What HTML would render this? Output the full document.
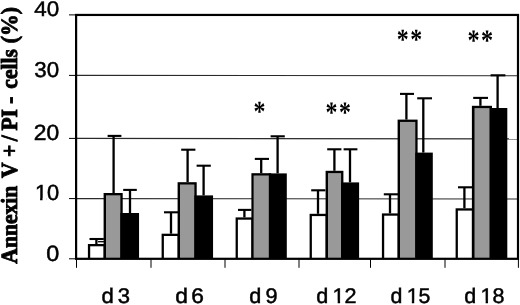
<!DOCTYPE html>
<html><head><meta charset="utf-8"><title>chart</title>
<style>html,body{margin:0;padding:0;background:#fff;overflow:hidden}svg{display:block}</style>
</head><body>
<svg width="520" height="305" viewBox="0 0 520 305" text-rendering="geometricPrecision">
<defs><filter id="soft" x="-5%" y="-5%" width="110%" height="110%"><feGaussianBlur stdDeviation="0.4"/></filter></defs>
<rect width="520" height="305" fill="#fff"/>
<g filter="url(#soft)">
<rect x="-20" y="-20" width="560" height="345" fill="#fff"/>
<line x1="76" x2="518" y1="75.4" y2="75.8" stroke="#2a2a2a" stroke-width="1.1"/>
<line x1="76" x2="518" y1="138.4" y2="138.9" stroke="#2a2a2a" stroke-width="1.1"/>
<line x1="76" x2="518" y1="198.6" y2="199.0" stroke="#2a2a2a" stroke-width="1.1"/>
<line x1="96.4" x2="96.4" y1="238.7" y2="244.0" stroke="#000" stroke-width="2.3"/>
<line x1="89.5" x2="103.80000000000001" y1="239.0" y2="239.0" stroke="#000" stroke-width="2.1"/>
<line x1="113.6" x2="113.6" y1="135.6" y2="193.0" stroke="#000" stroke-width="2.3"/>
<line x1="107.6" x2="121.4" y1="135.9" y2="135.9" stroke="#000" stroke-width="2.1"/>
<line x1="130" x2="130" y1="189.6" y2="213.0" stroke="#000" stroke-width="2.3"/>
<line x1="123.19999999999999" x2="136.8" y1="189.9" y2="189.9" stroke="#000" stroke-width="2.1"/>
<line x1="171" x2="171" y1="212" y2="233.7" stroke="#000" stroke-width="2.3"/>
<line x1="164.0" x2="178.4" y1="212.3" y2="212.3" stroke="#000" stroke-width="2.1"/>
<line x1="187.6" x2="187.6" y1="149.4" y2="182.2" stroke="#000" stroke-width="2.3"/>
<line x1="181.2" x2="195.4" y1="149.70000000000002" y2="149.70000000000002" stroke="#000" stroke-width="2.1"/>
<line x1="203.6" x2="203.6" y1="165.4" y2="195.4" stroke="#000" stroke-width="2.3"/>
<line x1="196.6" x2="210.8" y1="165.70000000000002" y2="165.70000000000002" stroke="#000" stroke-width="2.1"/>
<line x1="244.4" x2="244.4" y1="209.6" y2="217.4" stroke="#000" stroke-width="2.3"/>
<line x1="238.0" x2="251.4" y1="209.9" y2="209.9" stroke="#000" stroke-width="2.1"/>
<line x1="261.2" x2="261.2" y1="158.6" y2="173.2" stroke="#000" stroke-width="2.3"/>
<line x1="254.79999999999998" x2="269.0" y1="158.9" y2="158.9" stroke="#000" stroke-width="2.1"/>
<line x1="277.6" x2="277.6" y1="136" y2="173.4" stroke="#000" stroke-width="2.3"/>
<line x1="270.6" x2="284.79999999999995" y1="136.3" y2="136.3" stroke="#000" stroke-width="2.1"/>
<line x1="318" x2="318" y1="190" y2="213.8" stroke="#000" stroke-width="2.3"/>
<line x1="311.20000000000005" x2="325.4" y1="190.3" y2="190.3" stroke="#000" stroke-width="2.1"/>
<line x1="334.4" x2="334.4" y1="149" y2="170.8" stroke="#000" stroke-width="2.3"/>
<line x1="327.20000000000005" x2="341.4" y1="149.3" y2="149.3" stroke="#000" stroke-width="2.1"/>
<line x1="350" x2="350" y1="149" y2="182.4" stroke="#000" stroke-width="2.3"/>
<line x1="343.6" x2="357.4" y1="149.3" y2="149.3" stroke="#000" stroke-width="2.1"/>
<line x1="390" x2="390" y1="194" y2="213.4" stroke="#000" stroke-width="2.3"/>
<line x1="383.8" x2="398.0" y1="194.3" y2="194.3" stroke="#000" stroke-width="2.1"/>
<line x1="406.4" x2="406.4" y1="93.6" y2="119.6" stroke="#000" stroke-width="2.3"/>
<line x1="400.0" x2="414.0" y1="93.89999999999999" y2="93.89999999999999" stroke="#000" stroke-width="2.1"/>
<line x1="423.3" x2="423.3" y1="98" y2="152.6" stroke="#000" stroke-width="2.3"/>
<line x1="417.20000000000005" x2="432.0" y1="98.3" y2="98.3" stroke="#000" stroke-width="2.1"/>
<line x1="464.4" x2="464.4" y1="187.0" y2="208.3" stroke="#000" stroke-width="2.3"/>
<line x1="458.0" x2="472.4" y1="187.3" y2="187.3" stroke="#000" stroke-width="2.1"/>
<line x1="480.4" x2="480.4" y1="97.6" y2="105.8" stroke="#000" stroke-width="2.3"/>
<line x1="473.20000000000005" x2="488.0" y1="97.89999999999999" y2="97.89999999999999" stroke="#000" stroke-width="2.1"/>
<line x1="497.6" x2="497.6" y1="75" y2="108.0" stroke="#000" stroke-width="2.3"/>
<line x1="490.6" x2="505.4" y1="75.3" y2="75.3" stroke="#000" stroke-width="2.1"/>
<line x1="98" x2="104" y1="241.7" y2="241.7" stroke="#000" stroke-width="1.3"/>
<rect x="87.9" y="244.0" width="18.10" height="14.80" fill="#000"/>
<rect x="90.20" y="246.30" width="13.40" height="12.50" fill="#fff"/>
<rect x="103.6" y="193.0" width="19.10" height="65.80" fill="#000"/>
<rect x="106" y="195.30" width="14.40" height="63.50" fill="#999"/>
<rect x="120.4" y="213.0" width="18.65" height="45.80" fill="#000"/>
<rect x="161.6" y="233.7" width="18.40" height="25.10" fill="#000"/>
<rect x="163.90" y="236.00" width="13.70" height="22.80" fill="#fff"/>
<rect x="177.6" y="182.2" width="19.10" height="76.60" fill="#000"/>
<rect x="180" y="184.50" width="14.40" height="74.30" fill="#999"/>
<rect x="194.4" y="195.4" width="18.65" height="63.40" fill="#000"/>
<rect x="235.6" y="217.4" width="18.00" height="41.40" fill="#000"/>
<rect x="237.90" y="219.70" width="13.50" height="39.10" fill="#fff"/>
<rect x="251.4" y="173.2" width="19.80" height="85.60" fill="#000"/>
<rect x="253.6" y="175.50" width="15.30" height="83.30" fill="#999"/>
<rect x="268.9" y="173.4" width="17.90" height="85.40" fill="#000"/>
<rect x="309.6" y="213.8" width="18.40" height="45.00" fill="#000"/>
<rect x="311.90" y="216.10" width="13.70" height="42.70" fill="#fff"/>
<rect x="325.6" y="170.8" width="17.80" height="88.00" fill="#000"/>
<rect x="328" y="173.10" width="13.10" height="85.70" fill="#999"/>
<rect x="341.1" y="182.4" width="18.00" height="76.40" fill="#000"/>
<rect x="381.9" y="213.4" width="18.10" height="45.40" fill="#000"/>
<rect x="384.20" y="215.70" width="13.40" height="43.10" fill="#fff"/>
<rect x="397.6" y="119.6" width="20.00" height="139.20" fill="#000"/>
<rect x="400" y="121.90" width="15.30" height="136.90" fill="#999"/>
<rect x="415.3" y="152.6" width="17.50" height="106.20" fill="#000"/>
<rect x="455.6" y="208.3" width="18.90" height="50.50" fill="#000"/>
<rect x="457.90" y="210.60" width="14.00" height="48.20" fill="#fff"/>
<rect x="471.9" y="105.8" width="20.10" height="153.00" fill="#000"/>
<rect x="474.5" y="108.10" width="15.20" height="150.70" fill="#999"/>
<rect x="489.7" y="108.0" width="17.60" height="150.80" fill="#000"/>
<rect x="76.1" y="14.95" width="441.90" height="243.85" fill="none" stroke="#000" stroke-width="2.2"/>
<line x1="69" x2="76" y1="14.9" y2="14.9" stroke="#000" stroke-width="1"/>
<line x1="69" x2="76" y1="75.4" y2="75.4" stroke="#000" stroke-width="1"/>
<line x1="69" x2="76" y1="138.4" y2="138.4" stroke="#000" stroke-width="1"/>
<line x1="69" x2="76" y1="198.6" y2="198.6" stroke="#000" stroke-width="1"/>
<line x1="69" x2="76" y1="258.8" y2="258.8" stroke="#000" stroke-width="1"/>
<line  x1="76.5" x2="76.5" y1="259" y2="267.8" stroke="#000" stroke-width="1"/>
<line  x1="151" x2="151" y1="259" y2="267.8" stroke="#000" stroke-width="1"/>
<line  x1="225" x2="225" y1="259" y2="267.8" stroke="#000" stroke-width="1"/>
<line  x1="299" x2="299" y1="259" y2="267.8" stroke="#000" stroke-width="1"/>
<line  x1="370.5" x2="370.5" y1="259" y2="267.8" stroke="#000" stroke-width="1"/>
<line  x1="445" x2="445" y1="259" y2="267.8" stroke="#000" stroke-width="1"/>
<line  x1="518.4" x2="518.4" y1="259" y2="267.8" stroke="#000" stroke-width="1"/>
<text transform="translate(34.29,16.34) scale(1.0173,0.9667)" font-family="Liberation Sans, Arial, sans-serif" font-size="22" stroke="#000" stroke-width="0.5">40</text>
<text transform="translate(34.36,76.83) scale(1.0145,0.9795)" font-family="Liberation Sans, Arial, sans-serif" font-size="22" stroke="#000" stroke-width="0.5">30</text>
<text transform="translate(33.81,139.83) scale(1.0377,0.9987)" font-family="Liberation Sans, Arial, sans-serif" font-size="22" stroke="#000" stroke-width="0.5">20</text>
<text transform="translate(34.88,200.13) scale(0.9926,0.9987)" font-family="Liberation Sans, Arial, sans-serif" font-size="22" stroke="#000" stroke-width="0.5">10</text><g transform="translate(34.88,200.13) scale(0.9926,0.9987)" fill="#fff"><rect x="0.90" y="-2.20" width="4.35" height="4.15"/><rect x="7.73" y="-2.20" width="4.13" height="4.15"/></g>
<text transform="translate(46.32,260.53) scale(1.0622,1.0051)" font-family="Liberation Sans, Arial, sans-serif" font-size="22" stroke="#000" stroke-width="0.5">0</text>
<text transform="translate(102.00,302.84) scale(1.0029,0.9647)" font-family="Liberation Sans, Arial, sans-serif" font-size="22" stroke="#000" stroke-width="0.5"><tspan x="-0.45">d </tspan><tspan x="15.74">3</tspan></text>
<text transform="translate(175.80,302.84) scale(1.0338,0.9647)" font-family="Liberation Sans, Arial, sans-serif" font-size="22" stroke="#000" stroke-width="0.5"><tspan x="-0.51">d </tspan><tspan x="15.07">6</tspan></text>
<text transform="translate(249.80,302.84) scale(0.9835,0.9647)" font-family="Liberation Sans, Arial, sans-serif" font-size="22" stroke="#000" stroke-width="0.5"><tspan x="-0.44">d </tspan><tspan x="15.96">9</tspan></text>
<text transform="translate(316.50,302.84) scale(0.9825,0.9647)" font-family="Liberation Sans, Arial, sans-serif" font-size="22" stroke="#000" stroke-width="0.5"><tspan x="-0.38">d </tspan><tspan x="16.30">12</tspan></text><g transform="translate(316.50,302.84) scale(0.9825,0.9647)" fill="#fff"><rect x="17.20" y="-2.20" width="4.35" height="4.15"/><rect x="24.03" y="-2.20" width="4.13" height="4.15"/></g>
<text transform="translate(390.80,302.84) scale(0.9705,0.9647)" font-family="Liberation Sans, Arial, sans-serif" font-size="22" stroke="#000" stroke-width="0.5"><tspan x="-0.32">d </tspan><tspan x="16.40">15</tspan></text><g transform="translate(390.80,302.84) scale(0.9705,0.9647)" fill="#fff"><rect x="17.30" y="-2.20" width="4.35" height="4.15"/><rect x="24.13" y="-2.20" width="4.13" height="4.15"/></g>
<text transform="translate(464.50,302.84) scale(0.9775,0.9647)" font-family="Liberation Sans, Arial, sans-serif" font-size="22" stroke="#000" stroke-width="0.5"><tspan x="-0.36">d </tspan><tspan x="16.34">18</tspan></text><g transform="translate(464.50,302.84) scale(0.9775,0.9647)" fill="#fff"><rect x="17.24" y="-2.20" width="4.35" height="4.15"/><rect x="24.07" y="-2.20" width="4.13" height="4.15"/></g>
<text transform="translate(254.30,121.18) scale(0.9193,1.1179)" font-family="Liberation Serif, Times New Roman, serif" font-weight="bold" font-size="26"><tspan x="-0.95">*</tspan></text>
<text transform="translate(326.30,121.54) scale(0.9193,1.1385)" font-family="Liberation Serif, Times New Roman, serif" font-weight="bold" font-size="26"><tspan x="-0.95">*</tspan><tspan x="13.73">*</tspan></text>
<text transform="translate(397.70,49.36) scale(0.9193,1.1282)" font-family="Liberation Serif, Times New Roman, serif" font-weight="bold" font-size="26"><tspan x="-1.01">*</tspan><tspan x="13.79">*</tspan></text>
<text transform="translate(468.30,49.54) scale(0.9334,1.1385)" font-family="Liberation Serif, Times New Roman, serif" font-weight="bold" font-size="26"><tspan x="-0.88">*</tspan><tspan x="13.64">*</tspan></text>
<text transform="translate(16.98,264.80) rotate(-90) scale(0.9811,1.0514)" font-family="Liberation Serif, Times New Roman, serif" font-weight="bold" font-size="22" stroke="#000" stroke-width="0.85"><tspan x="1.17">Annexin </tspan><tspan x="88.55">V </tspan><tspan x="109.87">+</tspan><tspan x="125.91">/ </tspan><tspan x="136.80">PI </tspan><tspan x="164.24">- </tspan><tspan x="179.52">cells </tspan><tspan x="225.94">(%)</tspan></text>
</g>
</svg>
</body></html>
